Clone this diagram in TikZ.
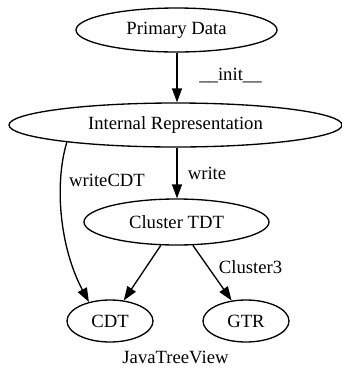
\documentclass[tikz,border=0pt]{standalone}
\usepackage{fontspec}
\setmainfont{Liberation Serif}
\usetikzlibrary{arrows.meta,shapes.geometric}
\begin{document}
\begin{tikzpicture}[x=1pt,y=-1pt,
  every node/.style={font=\fontsize{18.67}{22}\selectfont},
  state/.style={ellipse,draw,line width=1.33pt,inner sep=0pt},
  link/.style={draw,line width=1.33pt,-{Triangle[length=14pt,width=10pt]}},
  lbl/.style={anchor=base,inner sep=0pt}]
\useasboundingbox (0,0) rectangle (342,368);

% states
\node[state,minimum width=201pt,minimum height=44pt] (pd)  at (176.5,30)  {Primary Data};
\node[state,minimum width=333pt,minimum height=44pt] (ir)  at (175.5,125) {Internal Representation};
\node[state,minimum width=185pt,minimum height=46pt] (ct)  at (176.5,222) {Cluster TDT};
\node[state,minimum width=86pt,minimum height=42pt]  (cdt) at (110,321)   {CDT};
\node[state,minimum width=86pt,minimum height=42pt]  (gtr) at (246,321)   {GTR};

% transitions
\draw[link] (pd.south -| 177,0) -- (ir.north -| 177,0);
\draw[link] (ir.south -| 177,0) -- (ct.north -| 177,0);
\draw[link] (ir.189) .. controls (54,185) and (60,248) .. (cdt.138);
\draw[link] (ct) -- (cdt);
\draw[link] (ct) -- (gtr);

% transition labels
\node[lbl] (linit)  at (230.5,80)  {\_\_init\_\_};
\node[lbl] (lwrite) at (207,179)   {write};
\node[lbl] (lwcdt)  at (107,186)   {writeCDT};
\node[lbl] (lc3)    at (250.5,273) {Cluster3};

% graph title
\node[lbl] (title) at (175.5,363) {JavaTreeView};
\end{tikzpicture}
\end{document}
